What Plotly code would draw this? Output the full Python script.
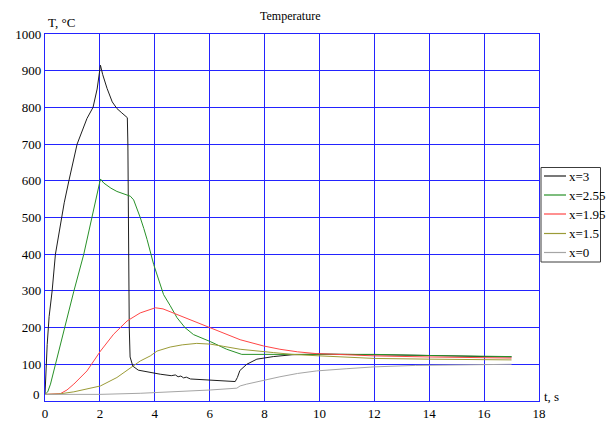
import plotly.graph_objects as go

# ---- data ----
t_x3 = [0, 0.04, 0.08, 0.15, 0.26, 0.38, 0.55, 0.7, 0.87, 1.17, 1.53, 1.75, 1.9, 2.02,
        2.1, 2.26, 2.45, 2.62, 2.8, 3.0, 3.02, 3.04, 3.07, 3.1, 3.2, 3.4, 3.84, 4.2,
        4.6, 4.75, 4.85, 4.95, 5.05, 5.15, 5.3, 5.6, 6.0, 6.5, 6.93, 7.01, 7.1, 7.35,
        7.72, 8.32, 9.0, 10, 12, 14, 16, 17]
T_x3 = [18, 100, 154, 230, 300, 400, 480, 540, 600, 700, 770, 800, 850, 915,
        890, 852, 815, 797, 785, 772, 700, 400, 200, 120, 95, 84, 77, 73,
        69, 71, 66, 68, 63, 65, 60, 59, 57, 55, 53, 64, 83, 100,
        114, 121, 126, 128, 127, 124, 121, 120]

t_x255 = [0, 0.1, 0.2, 0.44, 0.75, 1.05, 1.41, 1.65, 1.84, 2.02, 2.14, 2.4, 2.62, 2.9,
          3.11, 3.23, 3.35, 3.47, 3.6, 3.72, 3.96, 4.1, 4.32, 4.56, 4.81, 5.1, 5.41,
          6.02, 6.62, 7.17, 8, 10, 12, 14, 16, 17]
T_x255 = [18, 25, 46, 118, 209, 299, 399, 480, 553, 605, 594, 580, 571, 563,
          558, 548, 525, 500, 470, 440, 372, 340, 290, 260, 227, 200, 181,
          162, 141, 127, 127, 128, 127, 124, 122, 121]

t_x195 = [0, 0.56, 0.8, 1.05, 1.53, 2.02, 2.5, 2.99, 3.47, 4.02, 4.3, 4.81, 5.5, 6.02,
          6.5, 7.11, 7.96, 8.56, 9.2, 9.9, 11, 11.96, 14, 16, 17]
T_x195 = [18, 20, 30, 46, 82, 136, 182, 218, 240, 254, 251, 236, 216, 200,
          185, 167, 150, 141, 134, 129, 126, 123, 120, 118, 117]

t_x15 = [0, 0.5, 1.05, 1.5, 2.02, 2.62, 3.23, 3.47, 3.84, 4.08, 4.56, 5.0, 5.53, 6.02,
         6.5, 7.11, 8.32, 9, 10, 12, 14, 16, 17]
T_x15 = [18, 19, 25, 32, 41, 64, 96, 109, 123, 136, 147, 153, 157, 155,
         149, 141, 132, 127, 123, 116, 114, 113, 112]

t_x0 = [0, 2, 3.47, 4.56, 6.02, 6.99, 7.11, 7.35, 7.96, 8.56, 9.2, 9.9, 11, 12, 13.5, 15, 17]
T_x0 = [18, 18, 21, 24, 30, 35, 41, 46, 57, 66, 75, 82, 88, 93, 97, 99, 100]

series_names = ["x=3", "x=2.55", "x=1.95", "x=1.5", "x=0"]
series_t = [t_x3, t_x255, t_x195, t_x15, t_x0]
series_T = [T_x3, T_x255, T_x195, T_x15, T_x0]
series_colors = ["rgb(30,30,30)", "rgb(40,145,40)", "rgb(255,70,70)",
                 "rgb(155,155,55)", "rgb(165,165,165)"]

x_ticks = list(range(0, 19, 2))
y_ticks = list(range(100, 1001, 100))

FONT = "Liberation Serif"
GRID = "rgb(35,35,255)"

fig = go.Figure()
for name, t, T, c in zip(series_names, series_t, series_T, series_colors):
    fig.add_trace(go.Scatter(x=t, y=T, mode="lines", name=name,
                             line=dict(color=c, width=1), showlegend=False))

L, R, TOP, B = 45, 71, 34, 20
W, H = 610, 421
pw, ph = W - L - R, H - TOP - B

def px_to_paper_x(px):
    return (px - L) / pw

def py_to_paper_y(py):
    return (H - B - py) / ph

fig.update_layout(
    width=W, height=H,
    margin=dict(l=L, r=R, t=TOP, b=B, autoexpand=False),
    paper_bgcolor="white", plot_bgcolor="white",
    font=dict(family=FONT, size=13, color="black"),
    xaxis=dict(range=[0, 18], tickvals=x_ticks, ticktext=[str(v) for v in x_ticks],
               showgrid=True, gridcolor=GRID, gridwidth=1.2, zeroline=False,
               showline=True, linecolor=GRID, linewidth=1.2, mirror=True,
               ticks="", tickfont=dict(family=FONT, size=13)),
    yaxis=dict(range=[0, 1000], tickvals=y_ticks, ticktext=[str(v) for v in y_ticks],
               showgrid=True, gridcolor=GRID, gridwidth=1.2, zeroline=False,
               showline=True, linecolor=GRID, linewidth=1.2, mirror=True,
               ticks="", tickfont=dict(family=FONT, size=13)),
)

annotations = [
    dict(text="Temperature", x=px_to_paper_x(290), y=py_to_paper_y(16), xref="paper", yref="paper",
         showarrow=False, xanchor="center", yanchor="middle", font=dict(family=FONT, size=12)),
    dict(text="T, °C", x=px_to_paper_x(46), y=py_to_paper_y(23), xref="paper", yref="paper",
         showarrow=False, xanchor="left", yanchor="middle", font=dict(family=FONT, size=13)),
    dict(text="t, s", x=px_to_paper_x(542), y=py_to_paper_y(396), xref="paper", yref="paper",
         showarrow=False, xanchor="left", yanchor="middle", font=dict(family=FONT, size=13)),
    dict(text="0", x=px_to_paper_x(42), y=18, xref="paper", yref="y",
         showarrow=False, xanchor="right", yanchor="middle", font=dict(family=FONT, size=13)),
]

# legend box drawn to match the reference's compact legend
shapes = [dict(type="rect", xref="paper", yref="paper",
               x0=px_to_paper_x(541), x1=px_to_paper_x(600.5),
               y0=py_to_paper_y(262), y1=py_to_paper_y(167.5),
               line=dict(color="rgb(60,60,60)", width=1), fillcolor="white", layer="above")]
entry_y = [176, 195, 214, 233.5, 252.5]
for name, c, ey in zip(series_names, series_colors, entry_y):
    shapes.append(dict(type="line", xref="paper", yref="paper",
                       x0=px_to_paper_x(544), x1=px_to_paper_x(566),
                       y0=py_to_paper_y(ey), y1=py_to_paper_y(ey),
                       line=dict(color=c, width=1.2), layer="above"))
    annotations.append(dict(text=name, x=px_to_paper_x(567), y=py_to_paper_y(ey),
                            xref="paper", yref="paper", showarrow=False,
                            xanchor="left", yanchor="middle", font=dict(family=FONT, size=13)))

fig.update_layout(annotations=annotations, shapes=shapes)

fig.write_html("out.html")
